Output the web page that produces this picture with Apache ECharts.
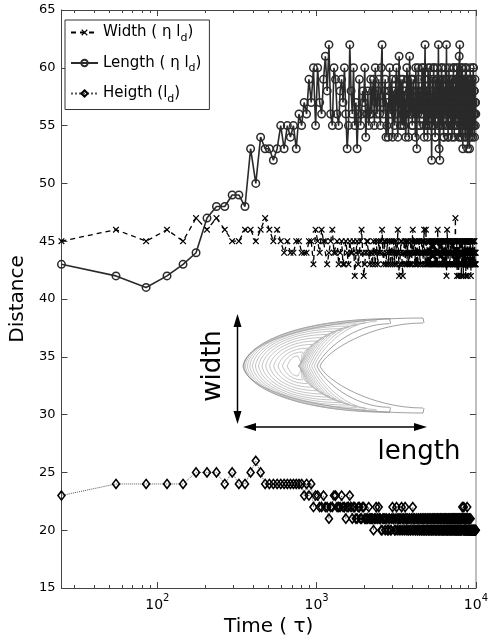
<!DOCTYPE html>
<html><head><meta charset="utf-8">
<script src="https://cdn.jsdelivr.net/npm/echarts@6/dist/echarts.min.js"></script>
<style>html,body{margin:0;padding:0;background:#fff}#c{width:491px;height:642px}</style>
</head><body><div id="c"></div>
<script>
// ---------------- data ----------------
const times = [
  25,55,85,115,145,175,205,235,265,295,325,355,385,415,445,475,505,535,565,595,
  625,655,685,715,745,775,805,835,865,895,925,955,985,
  1015,1045,1075,1105,1135,1165,1195,1225,1255,1285,1315,1345,1375,1405,1435,1465,1495,1525,1555,1585,
  1615,1645,1675,1705,1735,1765,1795,1825,1855,1885,1915,1945,1975,2005,2035,2065,2095,2125,2155,2185,
  2215,2245,2275,2305,2335,2365,2395,2425,2455,2485,2515,2545,2575,2605,2635,2665,2695,2725,2755,2785,
  2815,2845,2875,2905,2935,2965,2995,3025,3055,3085,3115,3145,3175,3205,3235,3265,3295,3325,3355,3385,
  3415,3445,3475,3505,3535,3565,3595,3625,3655,3685,3715,3745,3775,3805,3835,3865,3895,3925,3955,3985,
  4015,4045,4075,4105,4135,4165,4195,4225,4255,4285,4315,4345,4375,4405,4435,4465,4495,4525,4555,4585,
  4615,4645,4675,4705,4735,4765,4795,4825,4855,4885,4915,4945,4975,5005,5035,5065,5095,5125,5155,5185,
  5215,5245,5275,5305,5335,5365,5395,5425,5455,5485,5515,5545,5575,5605,5635,5665,5695,5725,5755,5785,
  5815,5845,5875,5905,5935,5965,5995,6025,6055,6085,6115,6145,6175,6205,6235,6265,6295,6325,6355,6385,
  6415,6445,6475,6505,6535,6565,6595,6625,6655,6685,6715,6745,6775,6805,6835,6865,6895,6925,6955,6985,
  7015,7045,7075,7105,7135,7165,7195,7225,7255,7285,7315,7345,7375,7405,7435,7465,7495,7525,7555,7585,
  7615,7645,7675,7705,7735,7765,7795,7825,7855,7885,7915,7945,7975,8005,8035,8065,8095,8125,8155,8185,
  8215,8245,8275,8305,8335,8365,8395,8425,8455,8485,8515,8545,8575,8605,8635,8665,8695,8725,8755,8785,
  8815,8845,8875,8905,8935,8965,8995,9025,9055,9085,9115,9145,9175,9205,9235,9265,9295,9325,9355,9385,
  9415,9445,9475,9505,9535,9565,9595,9625,9655,9685,9715,9745,9775,9805,9835,9865,9895,9925,9955,9985
];
const widthVals = [
  45,46,45,46,45,47,46,47,46,45,45,46,46,45,46,47,46,45,46,45,
  44,45,44,44,45,45,44,44,44,45,45,43,46,
  45,44,46,45,45,43,44,45,46,44,44,45,43,44,45,43,43,45,44,43,
  45,44,44,45,42,44,45,43,44,45,46,44,42,43,44,45,45,44,43,44,
  44,43,45,44,43,45,44,43,45,44,44,45,46,44,43,45,45,43,44,45,
  43,44,45,43,44,45,43,44,45,43,44,45,43,44,46,44,42,43,44,45,
  45,43,42,44,44,45,43,44,45,43,44,45,43,44,44,43,45,44,43,45,
  46,44,44,45,43,44,45,43,44,45,43,44,44,45,45,43,43,44,44,45,
  45,44,43,45,46,44,44,43,46,44,43,45,44,43,45,44,43,45,44,43,
  45,44,43,45,44,43,45,44,43,45,44,43,45,44,43,45,44,43,46,44,
  44,45,43,44,45,43,44,45,43,44,45,43,44,45,43,44,45,43,44,45,
  43,44,45,43,42,44,46,45,44,43,43,45,45,44,44,43,43,45,45,44,
  44,45,43,44,45,43,44,45,43,44,45,43,44,45,47,44,44,43,43,45,
  42,44,45,43,44,45,42,44,43,45,45,44,44,43,43,45,42,44,44,43,
  45,44,43,45,42,44,44,43,45,44,43,45,44,43,42,44,45,43,43,45,
  44,43,42,44,45,43,43,45,44,43,45,44,43,45,44,43,42,44,44,45,
  43,44,45,43,44,45,43,44,44,43,45,44,43,45,44,43,43,44,44,43
];
const lengthVals = [
  43,42,41,42,43,44,47,48,48,49,49,48,53,50,54,53,53,52,53,55,
  53,55,54,55,53,56,55,57,56,59,57,60,55,
  60,57,56,59,61,58,62,56,55,60,59,56,55,58,59,57,60,56,53,55,
  62,58,56,60,55,57,53,56,59,55,56,58,57,60,54,56,58,55,56,59,
  56,58,59,55,60,57,56,58,59,56,55,60,62,57,56,58,59,54,55,57,
  54,58,60,56,56,59,54,57,58,55,56,59,60,56,54,58,61,57,55,59,
  57,55,59,56,55,58,58,54,56,60,59,57,54,58,61,56,56,59,59,55,
  55,59,58,56,57,54,60,57,53,58,56,60,59,55,55,57,58,56,57,60,
  56,58,60,55,54,59,62,57,55,58,58,56,54,60,59,55,56,58,60,57,
  57,55,52,58,59,56,55,60,60,57,57,54,54,59,58,56,56,60,59,55,
  62,57,53,56,52,59,58,55,56,60,60,57,55,58,59,54,54,58,57,56,
  56,60,59,55,62,57,55,59,58,54,54,58,60,56,56,59,58,55,55,57,
  57,59,54,56,59,55,56,60,60,57,54,58,58,55,55,59,59,56,57,60,
  55,58,60,56,56,59,58,54,61,57,62,56,54,58,59,55,56,60,57,54,
  60,56,53,58,58,55,55,59,59,57,56,54,57,60,54,58,60,56,55,59,
  58,55,53,57,57,59,55,56,59,54,53,58,56,60,58,55,54,57,57,59,
  56,58,59,55,54,57,57,60,60,56,55,58,58,54,56,59,57,55,57,56
];
const heightVals = [
  23,24,24,24,24,25,25,25,24,25,24,24,25,26,25,24,24,24,24,24,
  24,24,24,24,24,24,24,23,24,23,24,22,23,
  23,22,22,23,22,22,21,22,22,23,23,22,22,22,23,22,22,21,22,22,
  23,22,21,22,22,21,21,22,22,21,21,22,22,21,21,21,21,22,21,21,
  21,21,20,21,21,22,21,21,22,21,21,20,20,21,21,21,20,21,21,20,
  20,21,21,20,20,21,22,21,21,20,20,21,22,20,21,21,20,21,21,20,
  22,21,20,21,21,20,22,21,20,21,21,20,20,21,21,20,20,21,21,20,
  22,21,20,21,21,20,20,21,21,20,20,21,21,20,20,21,21,20,20,21,
  21,20,20,21,21,20,20,21,21,20,20,21,21,20,20,21,21,20,20,21,
  21,20,20,21,21,20,20,21,20,21,21,20,20,21,21,20,20,21,21,20,
  20,21,21,20,20,21,21,20,20,21,21,20,20,21,21,20,20,21,21,20,
  20,21,21,20,20,21,21,20,20,21,21,20,20,21,21,20,21,20,20,21,
  21,20,20,21,21,20,20,21,21,20,20,21,21,20,20,21,21,20,20,21,
  21,20,20,21,21,20,20,21,21,20,20,21,21,20,20,21,21,20,20,21,
  22,21,21,20,20,21,22,20,21,20,20,21,21,20,20,21,21,20,20,21,
  22,20,20,21,21,20,20,20,20,21,21,20,20,20,20,21,20,20,20,20,
  20,20,20,20,20,20,20,20,20,20,20,20,20,20,20,20,20,20,20,20
];
const seriesNames = ['Width', 'Length', 'Heigth'];
const legendLabels = ['{a|Width ( η l}{s|d}{a|)}', '{a|Length ( η l}{s|d}{a|)}', '{a|Heigth (l}{s|d}{a|)}'];
const xMajorTicks = [100, 1000, 10000];
const xTickExps = ['2', '3', '4'];
const xMinorTicks = [30,40,50,60,70,80,90,200,300,400,500,600,700,800,900,2000,3000,4000,5000,6000,7000,8000,9000];
const yMin = 15, yMax = 65, yStep = 5;
const insetLabels = ['width', 'length'];

// ---------------- chart ----------------
const FONT = 'DejaVu Sans';
const chart = echarts.init(document.getElementById('c'), null, {renderer: 'canvas'});
const pair = vals => times.map((t, i) => [t, vals[i]]);
const X_PATH = 'path://M0,1.3L1.3,0L5,3.7L8.7,0L10,1.3L6.3,5L10,8.7L8.7,10L5,6.3L1.3,10L0,8.7L3.7,5Z';

const xBase = {type: 'log', logBase: 10, min: 25, max: 10000, splitLine: {show: false}};
const tickColor = '#444';

// inset contour drawing (decoration, not data)
const cy = 366;
const inset = [];
const N = 15;
function bez(x1, y1, c1x, c1y, c2x, c2y, x2, y2, stroke) {
  return {type: 'bezierCurve', silent: true, z: 5,
    shape: {x1: x1, y1: y1, cpx1: c1x, cpy1: c1y, cpx2: c2x, cpy2: c2y, x2: x2, y2: y2},
    style: {fill: null, stroke: stroke, lineWidth: 0.7}};
}
for (let i = 0; i < N; i++) {
  const s = i / (N - 1);
  const tipX = 243 + 44 * Math.pow(s, 1.5);
  const inX = 298 + 22 * Math.pow(1 - s, 2);
  const endX = 423 - 125 * Math.pow(s, 0.5);
  const topY = 318 + 38 * Math.pow(s, 1.5);
  const botY = 413 - 37 * Math.pow(s, 1.5);
  const th = i < 2 ? 5 : 1.5;
  const col = i < 2 ? '#777' : '#aaa';
  inset.push(bez(endX, topY, endX - (endX - tipX) * 0.55, topY, tipX + 3, cy - (cy - topY) * 0.55, tipX, cy, col));
  inset.push(bez(tipX, cy, tipX + 3, cy + (botY - cy) * 0.55, endX - (endX - tipX) * 0.55, botY, endX, botY, col));
  inset.push(bez(endX, botY - th, endX - (endX - inX) * 0.5, botY - th, inX + 6, cy + (botY - th - cy) * 0.35, inX, cy, col));
  inset.push(bez(inX, cy, inX + 6, cy - (cy - topY - th) * 0.35, endX - (endX - inX) * 0.5, topY + th, endX, topY + th, col));
  inset.push({type: 'line', silent: true, z: 5, shape: {x1: endX, y1: topY, x2: endX + 1, y2: topY + th}, style: {stroke: col, lineWidth: 0.7}});
  inset.push({type: 'line', silent: true, z: 5, shape: {x1: endX, y1: botY, x2: endX + 1, y2: botY - th}, style: {stroke: col, lineWidth: 0.7}});
}
// arrows
inset.push({type: 'line', shape: {x1: 237.5, y1: 322, x2: 237.5, y2: 416}, style: {stroke: '#000', lineWidth: 1.5}, z: 6});
inset.push({type: 'polygon', shape: {points: [[237.5, 314], [233.5, 327], [241.5, 327]]}, style: {fill: '#000'}, z: 6});
inset.push({type: 'polygon', shape: {points: [[237.5, 424], [233.5, 411], [241.5, 411]]}, style: {fill: '#000'}, z: 6});
inset.push({type: 'line', shape: {x1: 250, y1: 427, x2: 420, y2: 427}, style: {stroke: '#000', lineWidth: 1.5}, z: 6});
inset.push({type: 'polygon', shape: {points: [[243, 427], [256, 423], [256, 431]]}, style: {fill: '#000'}, z: 6});
inset.push({type: 'polygon', shape: {points: [[427, 427], [414, 423], [414, 431]]}, style: {fill: '#000'}, z: 6});
inset.push({type: 'text', x: 213, y: 366, rotation: Math.PI / 2, z: 6,
  style: {text: insetLabels[0], font: '26px "DejaVu Sans"', fill: '#000', textAlign: 'center', textVerticalAlign: 'middle'}});
inset.push({type: 'text', x: 419, y: 452, z: 6,
  style: {text: insetLabels[1], font: '26px "DejaVu Sans"', fill: '#000', textAlign: 'center', textVerticalAlign: 'middle'}});

const xLabelFmt = v => {
  const i = xMajorTicks.findIndex(t => Math.abs(t - v) < 1e-6 * t);
  return i < 0 ? '' : '{b|10}{sup|' + xTickExps[i] + '}';
};

const option = {
  animation: false,
  backgroundColor: '#fff',
  textStyle: {fontFamily: FONT},
  grid: {left: 57, right: 13, top: 10, bottom: 54},
  legend: {
    orient: 'vertical', left: 65, top: 20,
    padding: [5, 8, 5, 5], itemGap: 12, itemWidth: 27, itemHeight: 8,
    backgroundColor: '#fff', borderColor: '#333', borderWidth: 1,
    data: seriesNames,
    formatter: n => legendLabels[seriesNames.indexOf(n)],
    textStyle: {
      fontFamily: FONT, fontSize: 15, color: '#000',
      rich: {
        a: {fontFamily: FONT, fontSize: 15, color: '#000', lineHeight: 22},
        s: {fontFamily: FONT, fontSize: 11, color: '#000', lineHeight: 11, verticalAlign: 'bottom'}
      }
    }
  },
  xAxis: [
    Object.assign({}, xBase, {
      position: 'bottom',
      axisLine: {show: true, lineStyle: {color: tickColor, width: 1}},
      axisTick: {show: true, inside: true, length: 6, customValues: xMajorTicks, lineStyle: {color: tickColor}},
      axisLabel: {show: true, customValues: xMajorTicks, formatter: xLabelFmt, margin: 5,
        rich: {
          b: {fontFamily: FONT, fontSize: 14, color: '#000', lineHeight: 24},
          sup: {fontFamily: FONT, fontSize: 10, color: '#000', lineHeight: 12, verticalAlign: 'top'}
        }},
      name: 'Time ( τ)', nameLocation: 'middle', nameGap: 27,
      nameTextStyle: {fontFamily: FONT, fontSize: 20, color: '#000'}
    }),
    Object.assign({}, xBase, {
      position: 'top',
      axisLine: {show: true, lineStyle: {color: tickColor, width: 1}},
      axisTick: {show: true, inside: true, length: 6, customValues: xMajorTicks, lineStyle: {color: tickColor}},
      axisLabel: {show: false}
    }),
    Object.assign({}, xBase, {
      position: 'bottom',
      axisLine: {show: false},
      axisTick: {show: true, inside: true, length: 3, customValues: xMinorTicks, lineStyle: {color: tickColor}},
      axisLabel: {show: false}
    }),
    Object.assign({}, xBase, {
      position: 'top',
      axisLine: {show: false},
      axisTick: {show: true, inside: true, length: 3, customValues: xMinorTicks, lineStyle: {color: tickColor}},
      axisLabel: {show: false}
    })
  ],
  yAxis: [
    {
      type: 'value', min: yMin, max: yMax, interval: yStep, position: 'left',
      axisLine: {show: true, lineStyle: {color: tickColor}},
      axisTick: {show: true, inside: true, length: 6, lineStyle: {color: tickColor}},
      axisLabel: {fontFamily: FONT, fontSize: 13, color: '#000', margin: 6},
      splitLine: {show: false},
      name: 'Distance', nameLocation: 'middle', nameGap: 31,
      nameTextStyle: {fontFamily: FONT, fontSize: 20, color: '#000'}
    },
    {
      type: 'value', min: yMin, max: yMax, interval: yStep, position: 'right',
      axisLine: {show: true, lineStyle: {color: '#aaa', width: 1.5}},
      axisTick: {show: true, inside: true, length: 6, lineStyle: {color: tickColor}},
      axisLabel: {show: false},
      splitLine: {show: false}
    }
  ],
  graphic: inset,
  series: [
    {
      name: seriesNames[0], type: 'line', xAxisIndex: 0, yAxisIndex: 0,
      data: pair(widthVals), showSymbol: true, showAllSymbol: true,
      symbol: X_PATH, symbolSize: 6.5,
      lineStyle: {color: '#000', width: 1.3, type: [5, 4]},
      itemStyle: {color: '#000'}, emphasis: {disabled: true}
    },
    {
      name: seriesNames[1], type: 'line', xAxisIndex: 0, yAxisIndex: 0,
      data: pair(lengthVals), showSymbol: true, showAllSymbol: true,
      symbol: 'circle', symbolSize: 7.5,
      lineStyle: {color: '#2a2a2a', width: 1.6},
      itemStyle: {color: 'rgba(255,255,255,0)', borderColor: '#2a2a2a', borderWidth: 1.5}, emphasis: {disabled: true}
    },
    {
      name: seriesNames[2], type: 'line', xAxisIndex: 0, yAxisIndex: 0,
      data: pair(heightVals), showSymbol: true, showAllSymbol: true,
      symbol: 'diamond', symbolSize: [7, 9],
      lineStyle: {color: '#555', width: 1, type: 'dotted'},
      itemStyle: {color: 'rgba(255,255,255,0)', borderColor: '#000', borderWidth: 1.6}, emphasis: {disabled: true}
    }
  ]
};
chart.setOption(option);
</script>
</body></html>
